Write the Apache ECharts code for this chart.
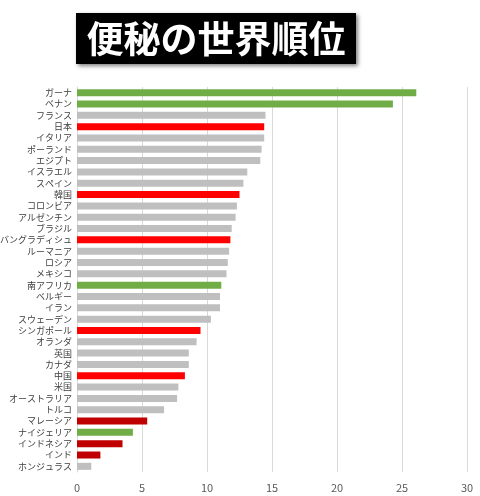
<!DOCTYPE html>
<html lang="ja">
<head>
    <meta charset="UTF-8">
    <title>便秘の世界順位</title>
    <script src="https://cdn.jsdelivr.net/npm/echarts@6/dist/echarts.min.js"></script>
    <style>
        body { margin: 0; padding: 0; background: #fff; }
        #chart { width: 480px; height: 496px; }
    </style>
</head>
<body>
    <div id="chart"></div>
    <script>
        // 国名（上から順）
        const countries = [
            'ガーナ', 'ベナン', 'フランス', '日本', 'イタリア', 'ポーランド', 'エジプト', 'イスラエル',
            'スペイン', '韓国', 'コロンビア', 'アルゼンチン', 'ブラジル', 'バングラディシュ', 'ルーマニア',
            'ロシア', 'メキシコ', '南アフリカ', 'ベルギー', 'イラン', 'スウェーデン', 'シンガポール',
            'オランダ', '英国', 'カナダ', '中国', '米国', 'オーストラリア', 'トルコ', 'マレーシア',
            'ナイジェリア', 'インドネシア', 'インド', 'ホンジュラス'
        ];
        // 値（%）
        const rates = [
            26.1, 24.3, 14.5, 14.4, 14.4, 14.2, 14.1, 13.1,
            12.8, 12.5, 12.3, 12.2, 11.9, 11.8, 11.7,
            11.6, 11.5, 11.1, 11.0, 11.0, 10.3, 9.5,
            9.2, 8.6, 8.6, 8.3, 7.8, 7.7, 6.7, 5.4,
            4.3, 3.5, 1.8, 1.1
        ];
        // 色分け: g=緑, r=赤, d=濃い赤, その他=灰
        const groups = [
            'g', 'g', '', 'r', '', '', '', '',
            '', 'r', '', '', '', 'r', '',
            '', '', 'g', '', '', '', 'r',
            '', '', '', 'r', '', '', '', 'd',
            'g', 'd', 'd', ''
        ];
        const xTicks = [0, 5, 10, 15, 20, 25, 30];

        const palette = { g: '#70AD47', r: '#FF0000', d: '#C00000', '': '#BFBFBF' };

        const chart = echarts.init(document.getElementById('chart'));
        chart.setOption({
            animation: false,
            graphic: [
                {
                    type: 'rect',
                    shape: { x: 76, y: 13, width: 280, height: 51 },
                    style: {
                        fill: '#000',
                        shadowBlur: 4,
                        shadowOffsetX: 2,
                        shadowOffsetY: 2,
                        shadowColor: 'rgba(0,0,0,0.5)'
                    }
                },
                {
                    type: 'text',
                    x: 216,
                    y: 39,
                    style: {
                        text: '便秘の世界順位',
                        fill: '#fff',
                        font: 'bold 37px "Noto Sans CJK JP"',
                        align: 'center',
                        verticalAlign: 'middle'
                    }
                }
            ],
            grid: { left: 77, right: 13, top: 87, bottom: 24, containLabel: false, outerBoundsMode: 'none' },
            xAxis: {
                type: 'value',
                min: xTicks[0],
                max: xTicks[xTicks.length - 1],
                interval: 5,
                axisLine: { show: false },
                axisTick: { show: false },
                splitLine: { lineStyle: { color: '#d9d9d9', width: 1 } },
                axisLabel: { color: '#595959', fontSize: 11, margin: 10, fontFamily: '"Noto Sans CJK JP"' }
            },
            yAxis: {
                type: 'category',
                data: countries,
                inverse: true,
                axisLine: { show: true, lineStyle: { color: '#d9d9d9' } },
                axisTick: { show: false },
                axisLabel: { interval: 0, color: '#404040', fontSize: 9, margin: 5, fontFamily: '"Noto Sans CJK JP"' }
            },
            series: [{
                type: 'bar',
                barWidth: 7,
                data: rates.map((v, i) => ({ value: v, itemStyle: { color: palette[groups[i]] } }))
            }]
        });
    </script>
</body>
</html>
